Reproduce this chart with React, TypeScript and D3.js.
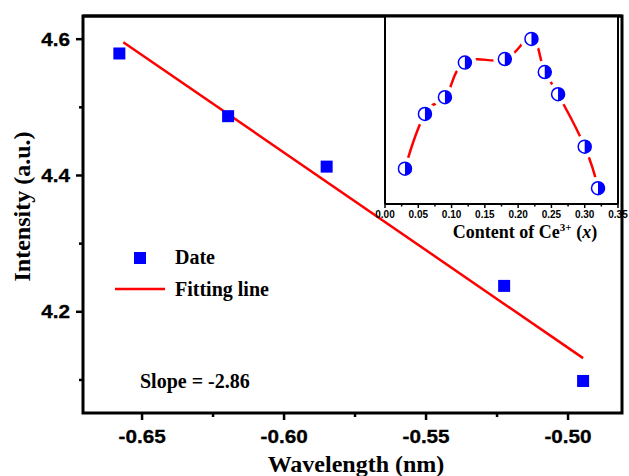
import React from "react";
import * as d3 from "d3";

const wavelength = [-0.658, -0.6197, -0.585, -0.5225, -0.4947];
const intensity = [4.579, 4.487, 4.413, 4.238, 4.0985];
const fitX = [-0.6566, -0.4947];
const fitY = [4.5956, 4.132];
const xTicks = [-0.65, -0.6, -0.55, -0.5];
const xMinor = [-0.625, -0.575, -0.525];
const yTicks = [4.2, 4.4, 4.6];
const yMinor = [4.1, 4.3, 4.5];
const slopeLabel = "Slope = -2.86";

const content = [0.03, 0.06, 0.09, 0.12, 0.18, 0.22, 0.24, 0.26, 0.3, 0.32];
const insetValue = [18.8, 47.9, 56.8, 75.2, 77.1, 87.8, 70.2, 58.4, 30.5, 8.4];
const insetTicks = [0, 0.05, 0.1, 0.15, 0.2, 0.25, 0.3, 0.35];
const insetMinor = [0.025, 0.075, 0.125, 0.175, 0.225, 0.275, 0.325];

const W = 629;
const H = 476;
const M = { left: 83, right: 622, top: 16, bottom: 413 };
const I = { left: 385, right: 618, top: 16, bottom: 204 };

const SANS = "'Liberation Sans', Arial, sans-serif";
const SERIF = "'Liberation Serif', 'Times New Roman', serif";
const SX = 1.15;

function WideText(props: {
  x: number;
  y: number;
  anchor?: "start" | "middle" | "end";
  size: number;
  dy?: string;
  children: React.ReactNode;
}) {
  return (
    <text
      transform={`translate(${props.x},${props.y}) scale(${SX},1)`}
      dy={props.dy}
      textAnchor={props.anchor || "start"}
      fontFamily={SANS}
      fontWeight="bold"
      fontSize={props.size}
      stroke="#000"
      strokeWidth={0.3}
    >
      {props.children}
    </text>
  );
}

export default function App() {
  const x = d3.scaleLinear().domain([-0.6708, -0.481]).range([M.left, M.right]);
  const y = d3.scaleLinear().domain([4.0515, 4.634]).range([M.bottom, M.top]);
  const ix = d3.scaleLinear().domain([0, 0.35]).range([I.left, I.right]);
  const iy = d3.scaleLinear().domain([0, 100]).range([I.bottom, I.top]);

  const fitLine = d3
    .line<number>()
    .x((d) => x(d))
    .y((_, i) => y(fitY[i]))(fitX);

  const insetPts: [number, number][] = content.map((c, i) => [ix(c), iy(insetValue[i])]);
  const spline = d3.line().curve(d3.curveCardinal.tension(-0.3))(insetPts);

  const sq = 12;
  const r = 6.5;

  return (
    <svg width={W} height={H} style={{ position: "absolute", left: 0, top: 0 }}>
      <rect width={W} height={H} fill="#fff" />
      {/* main frame */}
      <rect
        x={M.left}
        y={M.top}
        width={M.right - M.left}
        height={M.bottom - M.top}
        fill="none"
        stroke="#000"
        strokeWidth={3}
      />
      {/* y ticks */}
      {yTicks.map((t) => (
        <g key={"yt" + t}>
          <line x1={M.left - 7} x2={M.left} y1={y(t)} y2={y(t)} stroke="#000" strokeWidth={2.5} />
          <WideText x={70} y={y(t)} dy="0.36em" anchor="end" size={18}>
            {t.toFixed(1)}
          </WideText>
        </g>
      ))}
      {yMinor.map((t) => (
        <line key={"ym" + t} x1={M.left - 4} x2={M.left} y1={y(t)} y2={y(t)} stroke="#000" strokeWidth={2.5} />
      ))}
      {/* x ticks */}
      {xTicks.map((t) => (
        <g key={"xt" + t}>
          <line x1={x(t)} x2={x(t)} y1={M.bottom} y2={M.bottom + 7} stroke="#000" strokeWidth={2.5} />
          <WideText x={x(t)} y={443} anchor="middle" size={18}>
            {t.toFixed(2)}
          </WideText>
        </g>
      ))}
      {xMinor.map((t) => (
        <line key={"xm" + t} x1={x(t)} x2={x(t)} y1={M.bottom} y2={M.bottom + 4} stroke="#000" strokeWidth={2.5} />
      ))}
      {/* axis titles */}
      <text
        x={356}
        y={472}
        textAnchor="middle"
        fontFamily={SERIF}
        fontWeight="bold"
        fontSize={24}
      >
        Wavelength (nm)
      </text>
      <text
        transform={`translate(30,${(M.top + M.bottom) / 2 - 8}) rotate(-90)`}
        textAnchor="middle"
        fontFamily={SERIF}
        fontWeight="bold"
        fontSize={24}
      >
        Intensity (a.u.)
      </text>

      {/* fit line */}
      <path d={fitLine || ""} fill="none" stroke="#ff0000" strokeWidth={2.5} />
      {/* data squares */}
      {wavelength.map((w, i) => (
        <rect
          key={"sq" + i}
          x={x(w) - sq / 2}
          y={y(intensity[i]) - sq / 2}
          width={sq}
          height={sq}
          fill="#0000ff"
        />
      ))}

      {/* legend */}
      <rect x={140 - sq / 2} y={258 - sq / 2} width={sq} height={sq} fill="#0000ff" />
      <text x={175} y={264} fontFamily={SERIF} fontWeight="bold" fontSize={20}>
        Date
      </text>
      <line x1={115} x2={165} y1={289} y2={289} stroke="#ff0000" strokeWidth={2.5} />
      <text x={175} y={296} fontFamily={SERIF} fontWeight="bold" fontSize={20}>
        Fitting line
      </text>
      <text x={140} y={388} fontFamily={SERIF} fontWeight="bold" fontSize={20}>
        {slopeLabel}
      </text>

      {/* inset */}
      <rect x={I.left} y={I.top} width={I.right - I.left} height={I.bottom - I.top} fill="#fff" />
      <path d={spline || ""} fill="none" stroke="#ff0000" strokeWidth={2.5} />
      {insetPts.map((p, i) => (
        <circle key={"mask" + i} cx={p[0]} cy={p[1]} r={r + 5} fill="#fff" />
      ))}
      {insetPts.map((p, i) => (
        <g key={"pt" + i}>
          <circle cx={p[0]} cy={p[1]} r={r} fill="#fff" stroke="#0000ff" strokeWidth={1.5} />
          <path
            d={`M${p[0]},${p[1] - r} A${r},${r} 0 0 1 ${p[0]},${p[1] + r} Z`}
            fill="#0000ff"
          />
        </g>
      ))}
      <line x1={I.left} x2={I.left} y1={I.top} y2={I.bottom} stroke="#000" strokeWidth={2} />
      <line x1={I.left} x2={I.right} y1={I.bottom} y2={I.bottom} stroke="#000" strokeWidth={2} />
      <line x1={I.right} x2={I.right} y1={I.top} y2={I.bottom} stroke="#000" strokeWidth={2} />
      <line x1={M.left} x2={M.right} y1={M.top} y2={M.top} stroke="#000" strokeWidth={3} />
      {insetTicks.map((t) => (
        <g key={"it" + t}>
          <line x1={ix(t)} x2={ix(t)} y1={I.bottom} y2={I.bottom + 4} stroke="#000" strokeWidth={1.5} />
          <text
            x={ix(t)}
            y={218}
            textAnchor="middle"
            fontFamily={SANS}
            fontWeight="bold"
            fontSize={10}
          >
            {t.toFixed(2)}
          </text>
        </g>
      ))}
      {insetMinor.map((t) => (
        <line key={"im" + t} x1={ix(t)} x2={ix(t)} y1={I.bottom} y2={I.bottom + 2.5} stroke="#000" strokeWidth={1.5} />
      ))}
      <text x={525} y={238} textAnchor="middle" fontFamily={SERIF} fontWeight="bold" fontSize={18}>
        Content of Ce
        <tspan fontSize={11} dy={-7}>
          3+
        </tspan>
        <tspan dy={7}> (</tspan>
        <tspan fontStyle="italic">x</tspan>
        <tspan>)</tspan>
      </text>
    </svg>
  );
}
